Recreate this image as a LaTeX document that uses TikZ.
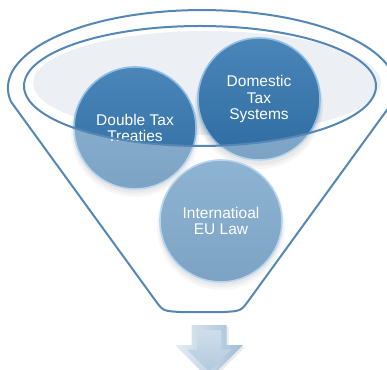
\documentclass[tikz,border=0pt]{standalone}
\usepackage{fontspec}
\setmainfont{Liberation Sans}
\definecolor{rim}{HTML}{5487B5}
\definecolor{bowl}{HTML}{ECEFF3}
\definecolor{balltop}{HTML}{4A86B8}
\definecolor{ballbot}{HTML}{2E6BA1}
\definecolor{ballrim}{HTML}{8CBEE6}
\begin{document}
\begin{tikzpicture}[x=1pt,y=1pt,
  ball/.style={circle, minimum size=122pt, inner sep=0pt, align=center,
    top color=balltop, bottom color=ballbot, draw=ballrim, line width=1.6pt,
    text=white, font=\fontsize{15.5}{16.5}\selectfont},
  funnelline/.style={draw=rim, line width=2pt},
  shade ring/.style={fill=black, opacity=0.05}]
\useasboundingbox (0,0) rectangle (387,369);

% ball centres
\coordinate (p1) at (135,241);
\coordinate (p2) at (259,269);
\coordinate (p3) at (221,148);

% inside of the bowl
\fill[bowl] (207,286) ellipse[x radius=174, y radius=52];

% soft shadows under the balls
\foreach \p in {p1,p2,p3}{
  \fill[shade ring] ([yshift=-5]\p) circle (64);
  \fill[shade ring] ([yshift=-4]\p) circle (62.5);
  \fill[shade ring] ([yshift=-3]\p) circle (61.5);
}

% the three balls
\node[ball] (dtt) at (p1) {Double Tax\\Treaties};
\node[ball] (dts) at ([yshift=1]p2) {Domestic\\Tax\\Systems};
\node[ball] (eul) at (p3) {Internatioal\\EU Law};

% translucent front of the funnel
\fill[white, opacity=0.38]
  (24,283) arc[start angle=180, end angle=360, x radius=176, y radius=60]
  -- (393,267.4) -- (249,69) .. controls (241,58) .. (224,57)
  -- (180,57) .. controls (163,58) .. (155,69) -- (10.9,267.4) -- cycle;

% inner rim
\draw[funnelline] (200,283) ellipse[x radius=176, y radius=60];

% outer funnel outline
\draw[funnelline, line join=round]
  (10.9,267.4) arc[start angle=190, end angle=-10, x radius=194, y radius=78]
  -- (249,69) .. controls (241,58) .. (224,57)
  -- (180,57) .. controls (163,58) .. (155,69) -- cycle;

% down arrow below the funnel
\coordinate (tip) at (209,-10);
\fill[black, opacity=0.08] (193.5,42) -- (228.5,42) -- (228.5,22) -- (245,22) -- (211,-12) -- (177,22) -- (193.5,22) -- cycle;
\shade[left color=white!85!rim, right color=rim!55]
  (191.5,44) -- (226.5,44) -- (226.5,24) -- (243,24) -- (tip) -- (175,24) -- (191.5,24) -- cycle;
\shade[top color=rim!28, bottom color=rim!45]
  (197,39) -- (221,39) -- (221,19.5) -- (231,19.5) -- (209,-2.5) -- (187,19.5) -- (197,19.5) -- cycle;
\end{tikzpicture}
\end{document}
